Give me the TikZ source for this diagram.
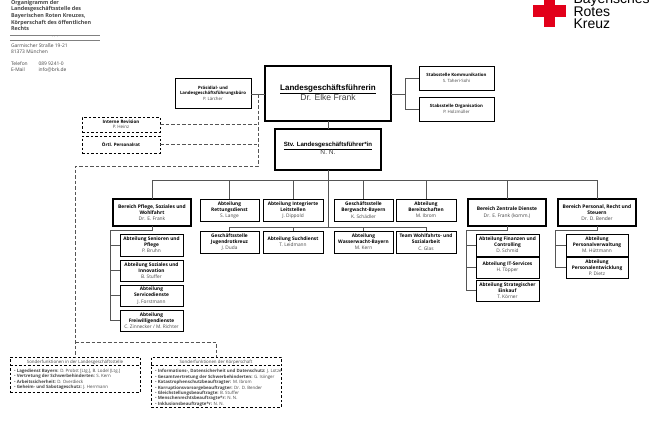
\documentclass[tikz,border=0pt]{standalone}
\usepackage{fontspec}
\setmainfont{Open Sans}
\newfontfamily\arial{Liberation Sans}
\definecolor{linegrey}{HTML}{555555}
\definecolor{txtgrey}{HTML}{444444}
\definecolor{brkred}{HTML}{E2001A}
\tikzset{
  x=1pt,y=-1pt,
  every node/.style={inner sep=0pt,outer sep=0pt},
  conn/.style={draw=linegrey,line width=0.7pt},
  dconn/.style={draw=linegrey,line width=0.7pt,dash pattern=on 3.5pt off 2pt},
  obox/.style={draw=black,line width=0.8pt,fill=white,align=center,font=\fontsize{4.8}{6.2}\selectfont},
  kbox/.style={obox,line width=1.3pt,font=\fontsize{4.9}{6.2}\selectfont},
  sbox/.style={obox,font=\fontsize{4.35}{5.4}\selectfont},
  dbox/.style={draw=black,line width=0.8pt,dash pattern=on 2.5pt off 2pt,fill=white,align=center,font=\fontsize{4.5}{5.4}\selectfont},
  small/.style={anchor=north west,align=left,text=txtgrey,font=\fontsize{4.9}{6.3}\selectfont},
}
\newcommand{\bx}[7][obox]{\node[#1,minimum width=#4-#3,minimum height=#6-#5,anchor=north west] (#2) at (#3,#5) {#7};}
\newcommand{\who}[1]{\textcolor{txtgrey}{#1}}
\begin{document}
\begin{tikzpicture}
\useasboundingbox (0,0) rectangle (659,440);
% header
\node[anchor=north west,align=left,font=\fontsize{5.4}{6.7}\selectfont\bfseries,text=txtgrey] (title) at (11,0) {Organigramm der\\Landesgeschäftsstelle des\\Bayerischen Roten Kreuzes,\\Körperschaft des öffentlichen\\Rechts};
\coordinate (r1a) at (10,35); \coordinate (r1b) at (100,35);
\coordinate (r2a) at (10,40); \coordinate (r2b) at (100,40);
\draw[draw=gray,line width=0.5pt] (r1a)--(r1b);
\draw[draw=gray,line width=0.5pt] (r2a)--(r2b);
\node[font=\fontsize{4}{4}\selectfont,text=gray] (dots) at (55,37) {. . .};
\node[small] (addr) at (11,43.3) {Garmischer Straße 19-21\\81373 München};
\node[small] (tel) at (11,61.5) {Telefon\\E-Mail};
\node[small] (telv) at (38.5,61.5) {089 9241-0\\info@brk.de};
% logo
\fill[brkred] (544,0) rectangle (555,27);
\fill[brkred] (533,5) rectangle (566,16.5);
\node[anchor=north west,align=left,font=\arial\fontsize{14}{12.3}\selectfont,text=black] (logo) at (573.5,-7) {Bayerisches\\Rotes\\Kreuz};
% nodes
\bx[sbox]{praes}{175}{251}{78}{108}{\textbf{Präsidial- und}\\\textbf{Landesgeschäftsführungsbüro}\\\who{P. Lärcher}}
\bx[dbox]{rev}{82}{160}{117}{132}{\textbf{Interne Revision}\\\who{P. Heinz}}
\bx[dbox]{pr}{82}{160}{136}{153}{\textbf{Örtl. Personalrat}}
\bx[kbox]{lgf}{265}{391}{66}{121}{}
\node[align=center,font=\arial\fontsize{8.6}{10}\selectfont] (lgft) at (328,92.5) {{\fontsize{8}{10}\selectfont\bfseries\underline{Landesgeschäftsführerin}}\\\textcolor{txtgrey}{Dr. Elke Frank}};
\bx[kbox]{stv}{275}{381}{129}{170}{}
\node[align=center,font=\arial\fontsize{6.6}{8}\selectfont] (stvt) at (328,148) {{\fontsize{6.1}{8}\selectfont\bfseries\underline{Stv. Landesgeschäftsführer*in}}\\\textcolor{txtgrey}{N. N.}};
\bx[sbox]{st1}{419}{494}{66}{90}{\textbf{Stabsstelle Kommunikation}\\\who{S. Taheri-Sohi}}
\bx[sbox]{st2}{419}{494}{97}{121}{\textbf{Stabsstelle Organisation}\\\who{P. Holzmüller}}
\bx[kbox]{pf}{113}{191}{199}{226}{\textbf{Bereich Pflege, Soziales und}\\\textbf{Wohlfahrt}\\\who{Dr. E. Frank}}
\bx[obox]{rd}{200}{259}{199}{221}{\textbf{Abteilung}\\\textbf{Rettungsdienst}\\\who{S. Lange}}
\bx[obox]{il}{263}{323}{199}{221}{\textbf{Abteilung Integrierte}\\\textbf{Leitstellen}\\\who{J. Dippold}}
\bx[obox]{bw}{334}{393}{199}{221}{\textbf{Geschäftsstelle}\\\textbf{Bergwacht-Bayern}\\\who{K. Schädler}}
\bx[obox]{bs}{396}{456}{199}{221}{\textbf{Abteilung}\\\textbf{Bereitschaften}\\\who{M. Ibrom}}
\bx[kbox]{zd}{468}{546}{199}{226}{\textbf{Bereich Zentrale Dienste}\\\who{Dr. E. Frank (komm.)}}
\bx[kbox]{pe}{558}{636}{199}{226}{\textbf{Bereich Personal, Recht und}\\\textbf{Steuern}\\\who{Dr. D. Bender}}
\bx[obox]{jrk}{200}{259}{231}{253}{\textbf{Geschäftsstelle}\\\textbf{Jugendrotkreuz}\\\who{J. Duda}}
\bx[obox]{sd}{263}{323}{231}{253}{\textbf{Abteilung Suchdienst}\\\who{T. Leidmann}}
\bx[obox]{ww}{334}{393}{231}{253}{\textbf{Abteilung}\\\textbf{Wasserwacht-Bayern}\\\who{M. Kern}}
\bx[obox]{ws}{396}{456}{231}{253}{\textbf{Team Wohlfahrts- und}\\\textbf{Sozialarbeit}\\\who{C. Glas}}
\bx[obox]{p1}{120}{183}{234}{256}{\textbf{Abteilung Senioren und}\\\textbf{Pflege}\\\who{P. Bruhn}}
\bx[obox]{p2}{120}{183}{260}{281}{\textbf{Abteilung Soziales und}\\\textbf{Innovation}\\\who{B. Stuffer}}
\bx[obox]{p3}{120}{183}{285}{306}{\textbf{Abteilung}\\\textbf{Servicedienste}\\\who{J. Forstmann}}
\bx[obox]{p4}{120}{183}{310}{331}{\textbf{Abteilung}\\\textbf{Freiwilligendienste}\\\who{C. Zinnecker / M. Richter}}
\bx[obox]{z1}{476}{539}{234}{256}{\textbf{Abteilung Finanzen und}\\\textbf{Controlling}\\\who{D. Schmid}}
\bx[obox]{z2}{476}{539}{257}{278}{\textbf{Abteilung IT-Services}\\\who{H. Töpper}}
\bx[obox]{z3}{476}{539}{280}{301}{\textbf{Abteilung Strategischer}\\\textbf{Einkauf}\\\who{T. Körner}}
\bx[obox]{e1}{566}{628}{234}{256}{\textbf{Abteilung}\\\textbf{Personalverwaltung}\\\who{M. Hüttmann}}
\bx[obox]{e2}{566}{628}{257}{278}{\textbf{Abteilung}\\\textbf{Personalentwicklung}\\\who{P. Dietz}}
% bottom boxes
\bx[dbox]{sl}{10}{140}{357}{392}{}
\bx[dbox]{sk}{151}{281}{357}{407}{}
\coordinate (sl1) at (10,365.5); \coordinate (sl2) at (140,365.5);
\coordinate (sk1) at (151,365.5); \coordinate (sk2) at (281,365.5);
\draw[line width=0.8pt,dash pattern=on 2.5pt off 2pt] (sl1)--(sl2);
\draw[line width=0.8pt,dash pattern=on 2.5pt off 2pt] (sk1)--(sk2);
\node[font=\fontsize{4.4}{5}\selectfont,text=txtgrey] (slh) at (75,362.2) {Sonderfunktionen in der Landesgeschäftsstelle};
\node[font=\fontsize{4.4}{5}\selectfont,text=txtgrey] (skh) at (216,362.2) {Sonderfunktionen der Körperschaft};
\node[anchor=north west,align=left,font=\fontsize{4.4}{5.5}\selectfont,text=txtgrey] (sll) at (14,369) {• \textbf{Lagedienst Bayern:} D. Probst [Ltg.], B. Lodel [Ltg.]\\• \textbf{Vertretung der Schwerbehinderten:} S. Kern\\• \textbf{Arbeitssicherheit:} D. Overdieck\\• \textbf{Geheim- und Sabotageschutz:} J. Herrmann};
\node[anchor=north west,align=left,font=\fontsize{4.4}{5.4}\selectfont,text=txtgrey] (skl) at (155,369.5) {• \textbf{Informations-, Datensicherheit und Datenschutz:} J. Lotze\\• \textbf{Gesamtvertretung der Schwerbehinderten:} G. Isiinger\\• \textbf{Katastrophenschutzbeauftragter:} M. Ibrom\\• \textbf{Korruptionsvorsorgebeauftragter:} Dr. D. Bender\\• \textbf{Gleichstellungsbeauftragte:} B. Stuffer\\• \textbf{Menschenrechtsbeauftragte*r:} N. N.\\• \textbf{Inklusionsbeauftragte*r:} N. N.};
% connectors
\coordinate (dtop) at (258,94);
\coordinate (dmid) at (258,166);
\coordinate (dleft) at (75,166);
\coordinate (dj) at (75,342);
\coordinate (dr) at (216,342);
\draw[conn] (praes.east |- 0,94)--(lgf.west |- 0,94);
\draw[dconn] (dtop)--(dmid)--(dleft)--(sl.north -| dleft);
\draw[dconn] (dj)--(dr)--(sk.north -| dr);
\draw[dconn] (rev.east)--(rev.east -| dtop);
\draw[dconn] (pr.east)--(pr.east -| dtop);
\draw[conn] (lgf.south -| stv.north)--(stv.north);
\coordinate (sj) at (405,94);
\draw[conn] (lgf.east |- sj)--(sj);
\draw[conn] (st1.west)-|(sj);
\draw[conn] (st2.west)-|(sj);
\coordinate (bar) at (328,180);
\coordinate (bar2) at (328,227);
\draw[conn] (stv.south)--(bar2);
\draw[conn] (pf.north)|-(bar);
\draw[conn] (pe.north)|-(bar);
\foreach \n in {rd,il,bw,bs,zd}{\draw[conn] (\n.north)|-(bar);}
\foreach \n in {jrk,sd,ww,ws}{\draw[conn] (\n.north)|-(bar2);}
\coordinate (pj) at (110,230.5);
\draw[conn] (pf.south)|-(pj);
\foreach \n in {p1,p2,p3,p4}{\draw[conn] (pj)|-(\n.west);}
\coordinate (zj) at (466,230.5);
\draw[conn] (zd.south)|-(zj);
\foreach \n in {z1,z2,z3}{\draw[conn] (zj)|-(\n.west);}
\coordinate (ej) at (555,230.5);
\draw[conn] (pe.south)|-(ej);
\foreach \n in {e1,e2}{\draw[conn] (ej)|-(\n.west);}
\end{tikzpicture}
\end{document}
